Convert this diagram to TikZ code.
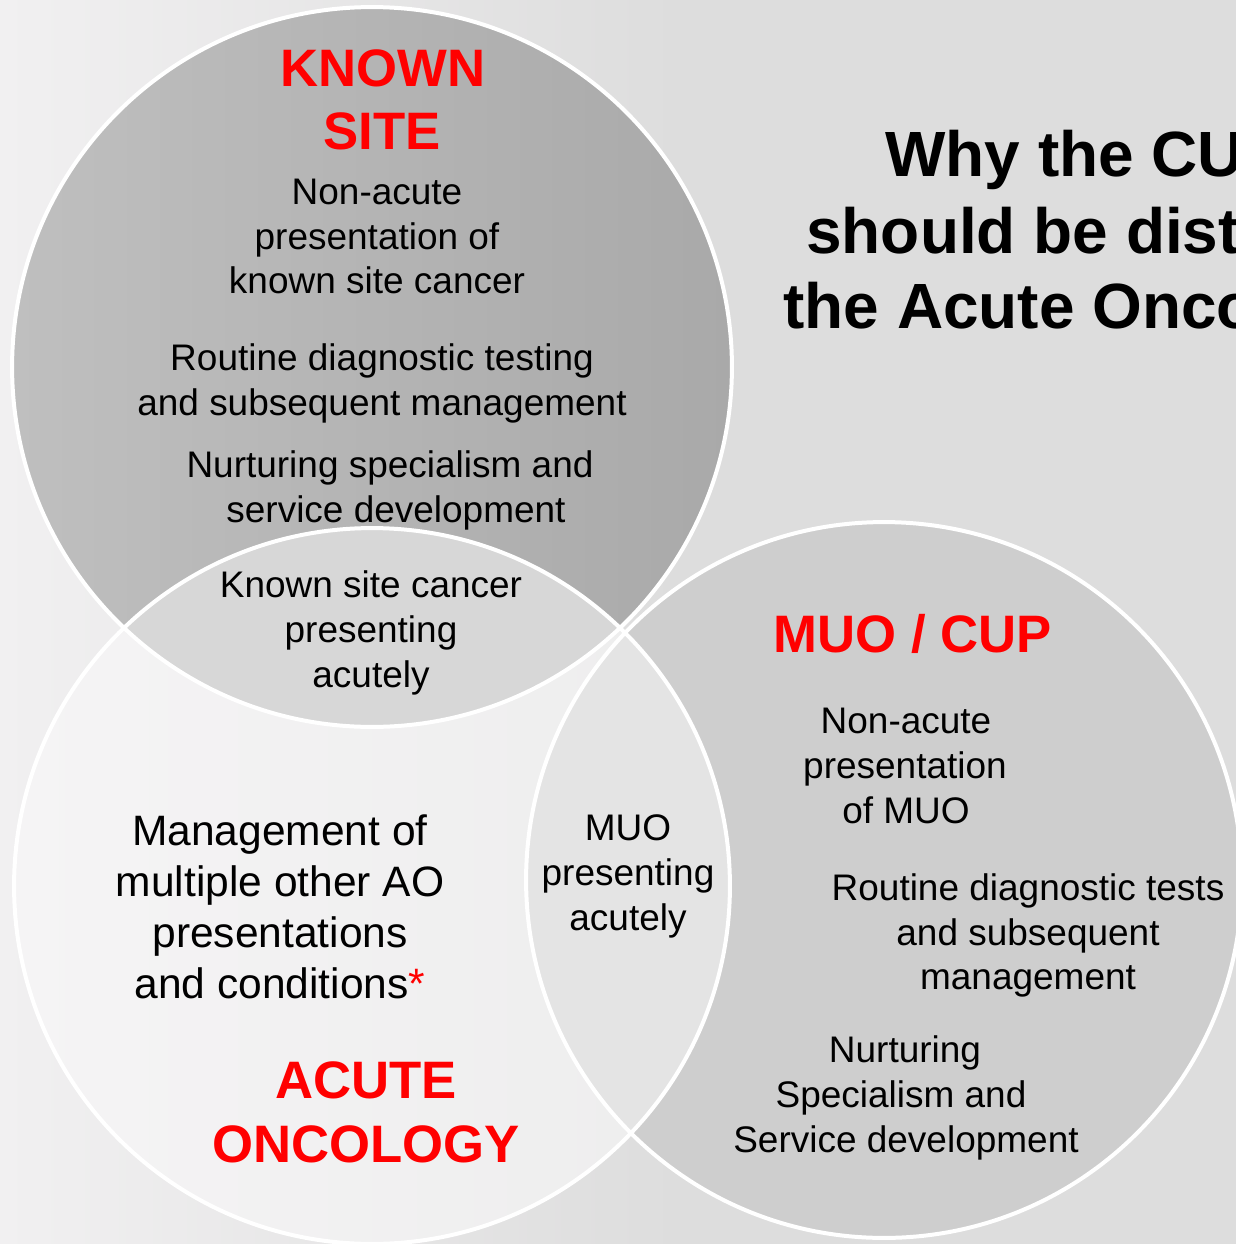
\documentclass[tikz,border=0pt]{standalone}
\usepackage{fontspec}
\setmainfont{Liberation Sans}
\definecolor{bgR}{HTML}{DDDDDD}
\definecolor{bgL}{HTML}{F1F0F1}
\definecolor{ksL}{HTML}{BFBFBF}
\definecolor{ksR}{HTML}{A9A9A9}
\definecolor{lensAB}{HTML}{D7D7D7}
\definecolor{aoL}{HTML}{F5F4F5}
\definecolor{aoR}{HTML}{EDEDED}
\definecolor{lensBC}{HTML}{E4E4E4}
\definecolor{muo}{HTML}{CECECE}
\definecolor{aored}{HTML}{FF0000}
\begin{document}
\begin{tikzpicture}[x=0.02cm,y=-0.02cm,
  body/.style={font=\fontsize{21.05}{25}\selectfont, anchor=base, inner sep=0pt, text=black},
  mgmt/.style={font=\fontsize{24.2}{29}\selectfont, anchor=base, inner sep=0pt, text=black},
  redtitle/.style={font=\bfseries\fontsize{30}{36}\selectfont, anchor=base, inner sep=0pt, text=aored},
  bigtitle/.style={font=\bfseries\fontsize{36.4}{44}\selectfont, anchor=base west, inner sep=0pt, text=black},
  ring/.style={draw=white, line width=0.08cm}]
\useasboundingbox (0,0) rectangle (1236,1244);
\clip (0,0) rectangle (1236,1244);
% background
\fill[bgR] (0,0) rectangle (1236,1244);
\shade[left color=bgL, right color=bgR] (0,0) rectangle (680,1244);
% circles
\shade[left color=ksL, right color=ksR] (372,367) circle [radius=7.2cm];
\shade[left color=aoL, right color=aoR] (372,886) circle [radius=7.16cm];
\fill[muo] (884,880) circle [radius=7.16cm];
\begin{scope}
  \clip (372,367) circle [radius=7.2cm];
  \fill[lensAB] (372,886) circle [radius=7.16cm];
\end{scope}
\begin{scope}
  \clip (372,886) circle [radius=7.16cm];
  \fill[lensBC] (884,880) circle [radius=7.16cm];
\end{scope}
\draw[ring] (372,367) circle [radius=7.2cm];
\draw[ring] (372,886) circle [radius=7.16cm];
\draw[ring] (884,880) circle [radius=7.16cm];
% title
\node[bigtitle] (t1) at (885,176) {Why the CU};
\node[bigtitle] (t2) at (806,253) {should be dist};
\node[bigtitle] (t3) at (783,328) {the Acute Onco};
% known site
\node[redtitle] (ks1) at (383,86) {KNOWN};
\node[redtitle] (ks2) at (382,149) {SITE};
\node[body] (a1) at (377,204) {Non-acute};
\node[body] (a2) at (377,249) {presentation of};
\node[body] (a3) at (377,293) {known site cancer};
\node[body] (a4) at (382,370) {Routine diagnostic testing};
\node[body] (a5) at (382,415) {and subsequent management};
\node[body] (a6) at (390,477) {Nurturing specialism and};
\node[body] (a7) at (396,522) {service development};
% lens known site / acute
\node[body] (ab1) at (371,597) {Known site cancer};
\node[body] (ab2) at (371,642) {presenting};
\node[body] (ab3) at (371,687) {acutely};
% acute oncology
\node[mgmt] (b1) at (280,845) {Management of};
\node[mgmt] (b2) at (280,896) {multiple other AO};
\node[mgmt] (b3) at (280,947) {presentations};
\node[mgmt] (b4) at (280,998) {and conditions\textcolor{aored}{*}};
\node[redtitle] (ao1) at (366,1098) {ACUTE};
\node[redtitle] (ao2) at (366,1162) {ONCOLOGY};
% lens acute / muo
\node[body] (bc1) at (628,840) {MUO};
\node[body] (bc2) at (628,885) {presenting};
\node[body] (bc3) at (628,930) {acutely};
% muo / cup
\node[redtitle] (mc) at (913,652) {MUO / CUP};
\node[body] (c1) at (906,733) {Non-acute};
\node[body] (c2) at (905,778) {presentation};
\node[body] (c3) at (906,823) {of MUO};
\node[body] (c4) at (1028,900) {Routine diagnostic tests};
\node[body] (c5) at (1028,945) {and subsequent};
\node[body] (c6) at (1028,989) {management};
\node[body] (c7) at (905,1062) {Nurturing};
\node[body] (c8) at (901,1107) {Specialism and};
\node[body] (c9) at (906,1152) {Service development};
\end{tikzpicture}
\end{document}
